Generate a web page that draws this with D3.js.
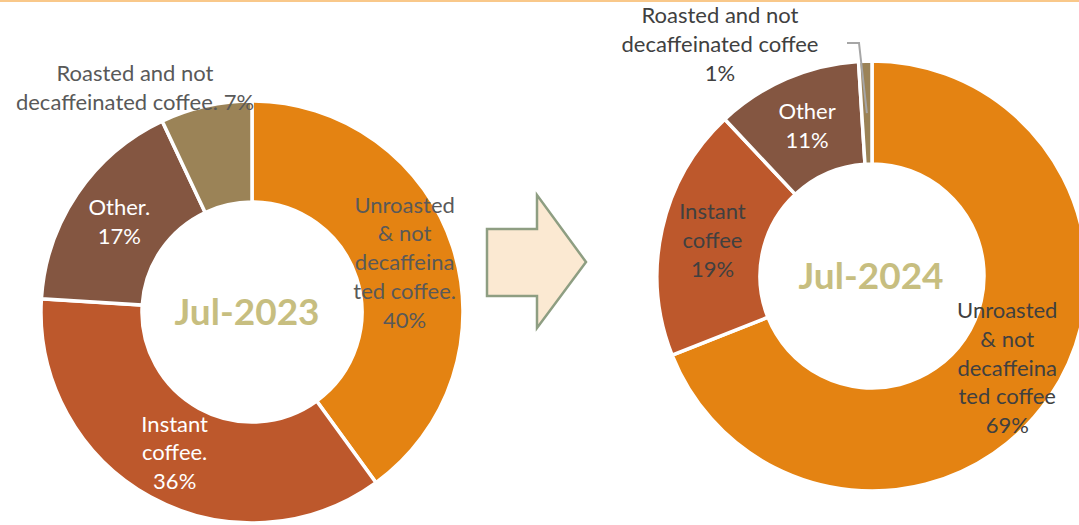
<!DOCTYPE html>
<html>
<head>
<meta charset="utf-8">
<script src="https://cdn.jsdelivr.net/npm/d3@7"></script>
<style>
  body { margin: 0; background: #fff; }
  svg { display: block; font-family: Lato, "Open Sans", sans-serif; }
</style>
</head>
<body>
<div id="container"></div>
<script>
const width = 1079,
  height = 525

// DATA
const categories = ["Unroasted & not decaffeinated coffee", "Instant coffee", "Other", "Roasted and not decaffeinated coffee"]
const values2023 = [40, 36, 17, 7]
const values2024 = [69, 19, 11, 1]
const periods = ["Jul-2023", "Jul-2024"]
// label text as shown in the picture (line breaks included)
const labels2023 = [
  ["Unroasted", "& not", "decaffeina", "ted coffee.", "40%"],
  ["Instant", "coffee.", "36%"],
  ["Other.", "17%"],
  ["Roasted and not", "decaffeinated coffee. 7%"]
]
const labels2024 = [
  ["Unroasted", "& not", "decaffeina", "ted coffee", "69%"],
  ["Instant", "coffee", "19%"],
  ["Other", "11%"],
  ["Roasted and not", "decaffeinated coffee", "1%"]
]

const colors = d3.scaleOrdinal()
  .domain(categories)
  .range(["#e48312", "#bd582c", "#845641", "#9b8357"])

const svg = d3.select("#container")
  .append("svg")
  .attr("width", width)
  .attr("height", height)

// thin line on top
svg.append("line")
  .attr("x1", 0).attr("x2", width)
  .attr("y1", 1).attr("y2", 1)
  .attr("stroke", "#f9c88a")
  .attr("stroke-width", 2)

const pie = d3.pie().sort(null).value(d => d.value)

function donut(opts) {
  const g = svg.append("g")
    .attr("transform", `translate(${opts.cx},${opts.cy})`)

  const data = categories.map((c, i) => ({ cat: c, value: opts.values[i], label: opts.labels[i] }))
  const arcs = pie(data)

  const arcGen = d3.arc()
    .innerRadius(opts.inner)
    .outerRadius(opts.outer)

  const labelArc = d3.arc()
    .innerRadius((opts.inner + opts.outer) / 2)
    .outerRadius((opts.inner + opts.outer) / 2)

  g.selectAll(".slice")
    .data(arcs)
    .join("path")
    .attr("class", "slice")
    .attr("d", arcGen)
    .attr("fill", d => colors(d.data.cat))
    .attr("stroke", "#fff")
    .attr("stroke-width", 3.5)

  // center label
  g.append("text")
    .attr("x", opts.centerDx)
    .attr("y", 0)
    .attr("dy", "0.35em")
    .attr("text-anchor", "middle")
    .attr("font-size", 37)
    .attr("font-weight", "bold")
    .attr("fill", "#c7be80")
    .text(opts.period)

  const lh = 28.8
  arcs.forEach((a, i) => {
    let [x, y] = labelArc.centroid(a)
    if (opts.outside[i]) {
      x = opts.outside[i][0]
      y = opts.outside[i][1]
    }
    const lines = a.data.label
    const t = g.append("text")
      .attr("text-anchor", "middle")
      .attr("font-size", 22)
      .attr("fill", opts.textColors[i])
    lines.forEach((ln, j) => {
      t.append("tspan")
        .attr("x", x)
        .attr("y", y + (j - (lines.length - 1) / 2) * lh)
        .attr("dy", "0.35em")
        .text(ln)
    })
  })

  return { g, arcs, labelArc }
}

const left = donut({
  cx: 252, cy: 312, inner: 110, outer: 211,
  values: values2023, labels: labels2023, period: periods[0], centerDx: -5,
  textColors: ["#595959", "#fff", "#fff", "#595959"],
  outside: [null, null, null, [-117, -224]]
})

const right = donut({
  cx: 872, cy: 276, inner: 112, outer: 215,
  values: values2024, labels: labels2024, period: periods[1], centerDx: -1,
  textColors: ["#404040", "#404040", "#fff", "#404040"],
  outside: [null, null, null, [-152, -232]]
})

// leader line for the 1% slice
const small = right.arcs[3]
const mid = (small.startAngle + small.endAngle) / 2
const r0 = 163
right.g.append("path")
  .attr("d", d3.line()([
    [-25, -233],
    [-13, -233],
    [r0 * Math.sin(mid), -r0 * Math.cos(mid)]
  ]))
  .attr("fill", "none")
  .attr("stroke", "#a6a6a6")
  .attr("stroke-width", 2)

// arrow between the two donuts
svg.append("path")
  .attr("d", d3.line()([
    [487, 229], [537, 229], [537, 195], [586, 262],
    [537, 328], [537, 296], [487, 296]
  ]) + "Z")
  .attr("fill", "#fbe9d2")
  .attr("stroke", "#8e9e82")
  .attr("stroke-width", 2.5)
</script>
</body>
</html>
